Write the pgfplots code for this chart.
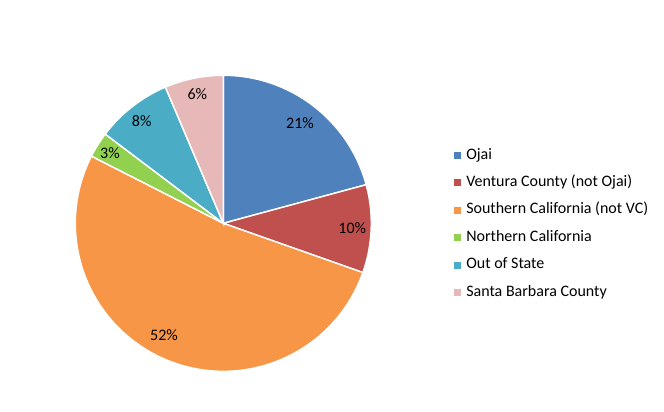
\documentclass[border=0pt]{standalone}
\usepackage{pgfplots}
\pgfplotsset{compat=1.18}
\usepackage{fontspec}
\setmainfont{Carlito}
\definecolor{cOjai}{HTML}{4F81BD}
\definecolor{cVent}{HTML}{C0504D}
\definecolor{cSoCal}{HTML}{F79646}
\definecolor{cNorCal}{HTML}{92D050}
\definecolor{cOut}{HTML}{4BACC6}
\definecolor{cSB}{HTML}{E6B9B8}
% shares (percent): Ojai 20.8, Ventura 9.6, SoCal 52.1, NorCal 2.8, Out of State 8.3, Santa Barbara 6.4
\begin{document}
\begin{tikzpicture}[font=\fontsize{12}{14}\selectfont]
\begin{axis}[
  x=0.75pt, y=0.75pt, xmin=0, xmax=664, ymin=0, ymax=411,
  scale only axis, hide axis, clip=false,
  legend style={at={(axis cs:454.3,187.0)}, anchor=west, draw=none, fill=none,
    inner sep=0pt, outer sep=0pt, row sep=9.1pt, column sep=3.75pt,
    nodes={inner sep=0pt, text height=8.5pt, text depth=3pt, anchor=west}},
  legend cell align=left,
  legend image code/.code={\fill (0pt,-2.6pt) rectangle (5.25pt,2.6pt);},
]
\addlegendimage{fill=cOjai, draw=none}\addlegendentry{Ojai}
\addlegendimage{fill=cVent, draw=none}\addlegendentry{Ventura County (not Ojai)}
\addlegendimage{fill=cSoCal, draw=none}\addlegendentry{Southern California (not VC)}
\addlegendimage{fill=cNorCal, draw=none}\addlegendentry{Northern California}
\addlegendimage{fill=cOut, draw=none}\addlegendentry{Out of State}
\addlegendimage{fill=cSB, draw=none}\addlegendentry{Santa Barbara County}
% slices, clockwise from 12 o'clock
\filldraw[fill=cOjai, draw=white, line width=1.1pt] (axis cs:223.3,187.7) -- ++(90:111pt)
  arc[start angle=90, end angle={90-3.6*20.8}, radius=111pt] -- cycle;
\filldraw[fill=cVent, draw=white, line width=1.1pt] (axis cs:223.3,187.7) -- ++({90-3.6*20.8}:111pt)
  arc[start angle={90-3.6*20.8}, end angle={90-3.6*30.4}, radius=111pt] -- cycle;
\filldraw[fill=cSoCal, draw=white, line width=1.1pt] (axis cs:223.3,187.7) -- ++({90-3.6*30.4}:111pt)
  arc[start angle={90-3.6*30.4}, end angle={90-3.6*82.5}, radius=111pt] -- cycle;
\filldraw[fill=cNorCal, draw=white, line width=1.1pt] (axis cs:223.3,187.7) -- ++({90-3.6*82.5}:111pt)
  arc[start angle={90-3.6*82.5}, end angle={90-3.6*85.3}, radius=111pt] -- cycle;
\filldraw[fill=cOut, draw=white, line width=1.1pt] (axis cs:223.3,187.7) -- ++({90-3.6*85.3}:111pt)
  arc[start angle={90-3.6*85.3}, end angle={90-3.6*93.6}, radius=111pt] -- cycle;
\filldraw[fill=cSB, draw=white, line width=1.1pt] (axis cs:223.3,187.7) -- ++({90-3.6*93.6}:111pt)
  arc[start angle={90-3.6*93.6}, end angle={90-3.6*100}, radius=111pt] -- cycle;
% data labels
\node at (axis cs:300.0,288.3) {21\%};
\node at (axis cs:352.3,182.7) {10\%};
\node at (axis cs:164.0,76.0) {52\%};
\node at (axis cs:110.0,257.7) {3\%};
\node at (axis cs:141.7,290.0) {8\%};
\node at (axis cs:197.3,317.0) {6\%};
\end{axis}
\pgfresetboundingbox
\path (current axis.south west) rectangle (current axis.north east);
\end{tikzpicture}
\end{document}
